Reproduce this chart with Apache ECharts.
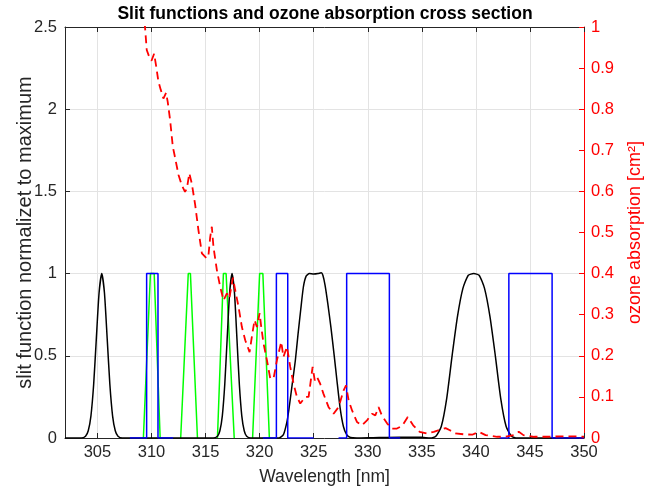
<!DOCTYPE html>
<html>
<head>
<meta charset="utf-8">
<script src="https://cdn.jsdelivr.net/npm/echarts@6/dist/echarts.min.js"></script>
<style>
html,body{margin:0;padding:0;background:#fff;}
#chart{width:652px;height:487px;}
</style>
</head>
<body>
<div id="chart"></div>
<script>
// ---- data ----
const xTicks = [305, 310, 315, 320, 325, 330, 335, 340, 345, 350];

// black slit functions (left axis)
const blackWl = [302, 303.5, 303.9, 304.15, 304.4, 304.65, 304.9, 305.15, 305.4, 305.65, 305.9, 306.15, 306.4, 306.65, 306.9, 307.3,
  315.7, 316.1, 316.325, 316.55, 316.775, 317.0, 317.225, 317.45, 317.675, 317.9, 318.125, 318.35, 318.575, 318.8, 319.2,
  321.8, 322.2, 322.5, 322.7, 323.0, 323.3, 323.55, 323.8, 324.05, 324.3, 324.6, 325.0, 325.4, 325.7, 325.85, 326.05, 326.3, 326.6, 326.9, 327.15, 327.45, 327.75, 328.05, 328.4, 329.0,
  330.5, 333.0, 335.0, 335.8, 336.3, 336.8, 337.3, 337.8, 338.3, 338.8, 339.3, 339.8, 340.3, 340.8, 341.3, 341.8, 342.3, 342.8, 343.3, 343.8, 350];
const blackVal = [0, 0, 0.011, 0.044, 0.135, 0.325, 0.607, 0.882, 1.0, 0.882, 0.607, 0.325, 0.135, 0.044, 0.011, 0,
  0, 0.011, 0.044, 0.135, 0.325, 0.607, 0.882, 1.0, 0.882, 0.607, 0.325, 0.135, 0.044, 0.011, 0,
  0, 0.02, 0.09, 0.17, 0.32, 0.47, 0.63, 0.78, 0.92, 0.985, 1.0, 0.997, 1.0, 1.005, 0.99, 0.93, 0.82, 0.67, 0.5, 0.35, 0.18, 0.07, 0.02, 0.003, 0,
  0.002, 0.005, 0.004, 0, 0.01, 0.07, 0.24, 0.5, 0.74, 0.91, 0.99, 1.0, 0.99, 0.91, 0.74, 0.5, 0.24, 0.07, 0.01, 0, 0];

// blue boxcar slit functions (left axis)
const blue1Wl = [308.0, 309.55, 309.55, 310.6, 310.6, 312.0];
const blue1Val = [0, 0, 1, 1, 0, 0];
const blue2Wl = [320.3, 321.55, 321.55, 322.6, 322.6, 325.0];
const blue2Val = [0, 0, 1, 1, 0, 0];
const blue3Wl = [327.3, 328.05, 328.05, 332.0, 332.0, 333.0];
const blue3Val = [0, 0, 1, 1, 0, 0];
const blue4Wl = [342.2, 343.05, 343.05, 347.05, 347.05, 350.0];
const blue4Val = [0, 0, 1, 1, 0, 0];

// green triangular slit functions (left axis)
const green1Wl = [309.25, 309.9, 310.25, 310.8];
const green2Wl = [312.7, 313.4, 313.6, 314.25];
const green3Wl = [316.1, 316.65, 316.9, 317.65];
const green4Wl = [319.35, 320.0, 320.3, 320.9];
const greenVal = [0, 1, 1, 0];

// ozone absorption cross section (right axis)
const ozoneWl = [308.6, 309.4, 309.56, 309.78, 310.0, 310.24, 310.43, 310.64, 310.86, 311.1, 311.35, 311.5, 311.72, 311.97, 312.15,
  312.5, 312.8, 313.1, 313.27, 313.5, 313.73, 314.04, 314.34, 314.66, 314.8, 315.1, 315.27, 315.43, 315.58, 315.73, 316.05, 316.35,
  316.66, 316.97, 317.2, 317.53, 317.74, 318.05, 318.36, 318.67, 319.07, 319.28, 319.53, 319.75, 320.0, 320.15, 320.36, 320.68,
  320.98, 321.29, 321.6, 322.0, 322.2, 322.53, 322.83, 323.14, 323.45, 323.76, 324.22, 324.53, 324.9, 325.1, 325.3, 325.6, 325.9,
  326.38, 326.84, 327.3, 327.77, 327.99, 328.23, 328.55, 329.0, 329.47, 329.93, 330.4, 330.7, 331.0, 331.3, 331.8, 332.25, 332.7,
  333.2, 333.7, 334.2, 334.8, 335.5, 336.1, 336.7, 337.2, 337.6, 338.1, 338.9, 339.66, 340.27, 340.9, 341.97, 342.7, 343.5, 343.97,
  344.4, 345.4, 346.6, 347.8, 349.4, 350];
const ozoneVal = [1.2, 1.0, 0.944, 0.928, 0.918, 0.935, 0.905, 0.867, 0.847, 0.826, 0.84, 0.818, 0.774, 0.709, 0.686,
  0.64, 0.615, 0.599, 0.607, 0.644, 0.619, 0.567, 0.506, 0.449, 0.445, 0.437, 0.445, 0.489, 0.514, 0.465, 0.408, 0.368,
  0.335, 0.352, 0.34, 0.39, 0.36, 0.319, 0.27, 0.238, 0.209, 0.246, 0.287, 0.27, 0.304, 0.27, 0.23, 0.189,
  0.145, 0.145, 0.189, 0.234, 0.197, 0.222, 0.173, 0.132, 0.1, 0.084, 0.1, 0.1, 0.173, 0.14, 0.149, 0.132, 0.108,
  0.075, 0.059, 0.075, 0.116, 0.128, 0.092, 0.067, 0.039, 0.031, 0.043, 0.059, 0.055, 0.075, 0.055, 0.035, 0.023, 0.023,
  0.03, 0.051, 0.031, 0.015, 0.011, 0.015, 0.02, 0.024, 0.019, 0.011, 0.009, 0.008, 0.015, 0.007, 0.003, 0.003, 0.007, 0.015,
  0.007, 0.003, 0.003, 0.004, 0.004, 0.003];

// ---- build chart ----
const zip = (xs, ys) => xs.map((x, i) => [x, ys[i]]);
const FONT = '"Liberation Sans", Arial, Helvetica, sans-serif';
const TXT = '#262626';

function lineSeries(data, color, extra) {
  return Object.assign({
    type: 'line', data: data, symbol: 'none', animation: false,
    lineStyle: { color: color, width: 1.5 }, itemStyle: { color: color },
    xAxisIndex: 0, yAxisIndex: 0, z: 2
  }, extra || {});
}

const series = [];
[green1Wl, green2Wl, green3Wl, green4Wl].forEach(w => series.push(lineSeries(zip(w, greenVal), '#00ff00')));
series.push(lineSeries(zip(blackWl, blackVal), '#000000', { smooth: 0.2 }));
[[blue1Wl, blue1Val], [blue2Wl, blue2Val], [blue3Wl, blue3Val], [blue4Wl, blue4Val]].forEach(p =>
  series.push(lineSeries(zip(p[0], p[1]), '#0000ff')));
series.push(lineSeries(zip(ozoneWl, ozoneVal), '#ff0000', {
  yAxisIndex: 1, z: 5,
  lineStyle: { color: '#ff0000', width: 1.8, type: [8, 5] }
}));

const chart = echarts.init(document.getElementById('chart'), null, { renderer: 'canvas' });
chart.setOption({
  animation: false,
  backgroundColor: '#ffffff',
  textStyle: { fontFamily: FONT },
  title: {
    text: 'Slit functions and ozone absorption cross section',
    left: 320, textAlign: 'center', top: 0,
    textStyle: { fontFamily: FONT, fontSize: 17.5, fontWeight: 'bold', color: '#000' }
  },
  grid: { left: 65, right: 68, top: 27, bottom: 49, containLabel: false, outerBoundsMode: 'none' },
  xAxis: [{
    type: 'value', min: 302, max: 350, position: 'bottom',
    axisLine: { show: true, onZero: false, lineStyle: { color: TXT, width: 1 } },
    axisTick: { show: true, inside: true, length: 5, customValues: xTicks, lineStyle: { color: TXT } },
    axisLabel: { customValues: xTicks, fontSize: 16.5, color: TXT, margin: 6, fontFamily: FONT },
    splitLine: { show: true, lineStyle: { color: '#e3e3e3', width: 1 } },
    name: 'Wavelength [nm]', nameLocation: 'middle', nameGap: 30,
    nameTextStyle: { fontSize: 17.5, color: TXT, fontFamily: FONT }
  }, {
    type: 'value', min: 302, max: 350, position: 'top',
    axisLine: { show: true, onZero: false, lineStyle: { color: TXT, width: 1 } },
    axisTick: { show: true, inside: true, length: 5, customValues: xTicks, lineStyle: { color: TXT } },
    axisLabel: { show: false },
    splitLine: { show: false }
  }],
  yAxis: [{
    type: 'value', min: 0, max: 2.5, interval: 0.5, position: 'left',
    axisLine: { show: true, onZero: false, lineStyle: { color: TXT, width: 1 } },
    axisTick: { show: true, inside: true, length: 5, lineStyle: { color: TXT } },
    axisLabel: { fontSize: 16.5, color: TXT, margin: 8, fontFamily: FONT },
    splitLine: { show: true, lineStyle: { color: '#e3e3e3', width: 1 } },
    name: 'slit function normalizet to maximum', nameLocation: 'middle', nameGap: 30, nameRotate: 90,
    nameMoveOverlap: false,
    nameTextStyle: { fontSize: 20, color: TXT, fontFamily: FONT }
  }, {
    type: 'value', min: 0, max: 1, interval: 0.1, position: 'right',
    axisLine: { show: true, onZero: false, lineStyle: { color: '#ff0000', width: 1 } },
    axisTick: { show: true, inside: true, length: 5, lineStyle: { color: '#ff0000' } },
    axisLabel: { fontSize: 16.5, color: '#ff0000', margin: 7, fontFamily: FONT },
    splitLine: { show: false },
    name: 'ozone absorption [cm²]', nameLocation: 'middle', nameGap: 42, nameRotate: 90,
    nameTextStyle: { fontSize: 18, color: '#ff0000', fontFamily: FONT }
  }],
  series: series
});
</script>
</body>
</html>
